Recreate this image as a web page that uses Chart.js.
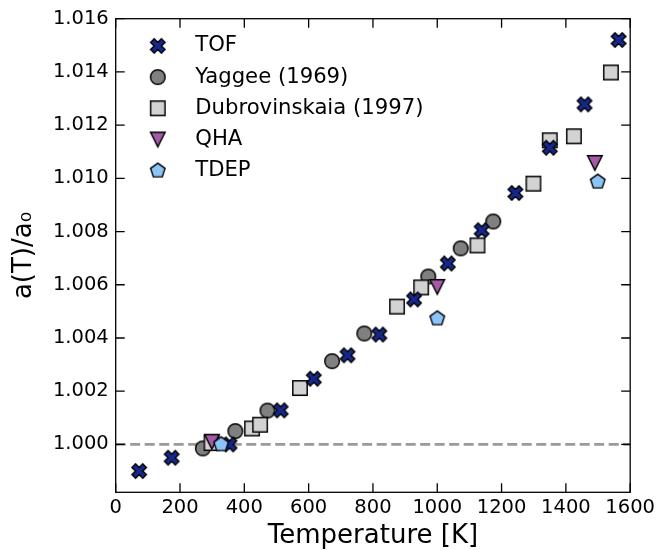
<!DOCTYPE html>
<html><head><meta charset="utf-8">
<script src="https://cdn.jsdelivr.net/npm/chart.js@4/dist/chart.umd.min.js"></script>
<style>html,body{margin:0;padding:0;background:#fff}</style>
</head><body>
<canvas id="c" width="659" height="550"></canvas>
<script>
const tofT  = [73, 174, 354, 513, 616, 721, 820, 928, 1033, 1138, 1243, 1350, 1458, 1564];
const tofA  = [0.99900, 0.99950, 1.00000, 1.00128, 1.00247, 1.00335, 1.00413, 1.00545, 1.00680, 1.00805, 1.00945, 1.01115, 1.01278, 1.01520];
const yagT  = [271, 372, 472, 673, 773, 972, 1073, 1174];
const yagA  = [0.99985, 1.00050, 1.00127, 1.00313, 1.00417, 1.00631, 1.00737, 1.00838];
const dubT  = [298, 424, 449, 573, 875, 950, 1125, 1299, 1350, 1425, 1540];
const dubA  = [1.00005, 1.00060, 1.00074, 1.00212, 1.00518, 1.00590, 1.00748, 1.00980, 1.01143, 1.01158, 1.01398];
const qhaT  = [299, 1000, 1490];
const qhaA  = [1.00010, 1.00592, 1.01058];
const tdepT = [328, 1000, 1499];
const tdepA = [1.00000, 1.00473, 1.00987];
const refLineT = [0, 1600];
const refLineA = [1.000, 1.000];
const xTicks = [0, 200, 400, 600, 800, 1000, 1200, 1400, 1600];
const yTicks = [1.000, 1.002, 1.004, 1.006, 1.008, 1.010, 1.012, 1.014, 1.016];
const seriesNames = ['TOF', 'Yaggee (1969)', 'Dubrovinskaia (1997)', 'QHA', 'TDEP'];

const FONT = 'DejaVu Sans';
const pts = (xs, ys) => xs.map((x, i) => ({x: x, y: ys[i]}));

function marker(kind, fill) {
  const S = 22, c = document.createElement('canvas');
  c.width = S; c.height = S;
  const g = c.getContext('2d'), m = S / 2;
  g.fillStyle = fill; g.strokeStyle = '#000'; g.lineWidth = 1.45; g.lineJoin = 'miter';
  g.beginPath();
  if (kind === 'x') {
    const u = 2.55;
    const v = [[-1,-3],[-1,-1],[-3,-1],[-3,1],[-1,1],[-1,3],[1,3],[1,1],[3,1],[3,-1],[1,-1],[1,-3]];
    v.forEach(([a, b], i) => {
      const x = (a - b) / Math.SQRT2 * u + m, y = (a + b) / Math.SQRT2 * u + m;
      if (i) g.lineTo(x, y); else g.moveTo(x, y);
    });
    g.closePath();
  } else if (kind === 'circle') {
    g.arc(m, m, 7.3, 0, Math.PI * 2);
  } else if (kind === 'square') {
    g.rect(m - 7.2, m - 7.2, 14.4, 14.4);
  } else if (kind === 'tri') {
    g.moveTo(m - 7.3, m - 7.3); g.lineTo(m + 7.3, m - 7.3); g.lineTo(m, m + 7.3); g.closePath();
  } else {
    const R = 7.6;
    for (let i = 0; i < 5; i++) {
      const ang = -Math.PI / 2 + i * 2 * Math.PI / 5;
      const x = m + R * Math.cos(ang), y = m + R * Math.sin(ang);
      if (i) g.lineTo(x, y); else g.moveTo(x, y);
    }
    g.closePath();
  }
  g.fill(); g.stroke();
  return c;
}

const mk = {
  tof: marker('x', '#15288a'),
  yag: marker('circle', '#808080'),
  dub: marker('square', '#d3d3d3'),
  qha: marker('tri', '#a35ba8'),
  tdep: marker('pent', '#8cc4f7')
};

const framePlugin = {
  id: 'frame',
  afterDatasetsDraw(chart) {
    const {ctx, chartArea: a, scales: {x, y}} = chart;
    ctx.save();
    ctx.strokeStyle = '#000'; ctx.lineWidth = 1.3;
    ctx.strokeRect(a.left, a.top, a.right - a.left, a.bottom - a.top);
    ctx.beginPath();
    const L = 9;
    x.ticks.forEach(t => {
      const p = x.getPixelForValue(t.value);
      ctx.moveTo(p, a.bottom); ctx.lineTo(p, a.bottom - L);
      ctx.moveTo(p, a.top); ctx.lineTo(p, a.top + L);
    });
    y.ticks.forEach(t => {
      const p = y.getPixelForValue(t.value);
      ctx.moveTo(a.left, p); ctx.lineTo(a.left + L, p);
      ctx.moveTo(a.right, p); ctx.lineTo(a.right - L, p);
    });
    ctx.stroke();
    ctx.restore();
  }
};

const legendPlace = {
  id: 'legendPlace',
  afterLayout(chart) {
    const Lg = chart.legend, a = chart.chartArea;
    if (!Lg) return;
    Lg.left = a.left + 5.3; Lg.top = a.top + 6.6;
    Lg.right = Lg.left + Lg.width; Lg.bottom = Lg.top + Lg.height;
  }
};

new Chart(document.getElementById('c'), {
  type: 'scatter',
  data: {
    datasets: [
      {label: seriesNames[0], data: pts(tofT, tofA), pointStyle: mk.tof, order: 2},
      {label: seriesNames[1], data: pts(yagT, yagA), pointStyle: mk.yag, order: 4},
      {label: seriesNames[2], data: pts(dubT, dubA), pointStyle: mk.dub, order: 3},
      {label: seriesNames[3], data: pts(qhaT, qhaA), pointStyle: mk.qha, order: 1},
      {label: seriesNames[4], data: pts(tdepT, tdepA), pointStyle: mk.tdep, order: 0},
      {label: '_ref', data: pts(refLineT, refLineA), showLine: true, pointRadius: 0,
       borderColor: '#9a9a9a', borderWidth: 2.6, borderDash: [10, 4.5], order: 10}
    ]
  },
  options: {
    responsive: false,
    animation: false,
    layout: {padding: {top: 18.3, right: 26, left: 0, bottom: 0}},
    plugins: {
      tooltip: {enabled: false},
      legend: {
        position: 'chartArea',
        align: 'start',
        labels: {
          usePointStyle: true,
          pointStyleWidth: 53.6,
          padding: 10,
          color: '#000',
          font: {family: FONT, size: 21.2},
          filter: (item) => item.text !== '_ref',
          sort: (a, b) => a.datasetIndex - b.datasetIndex
        }
      }
    },
    scales: {
      x: {
        type: 'linear', position: 'bottom', min: 0, max: 1600,
        afterBuildTicks: (s) => { s.ticks = xTicks.map(v => ({value: v})); },
        afterFit: (s) => { s.height = 57.7; },
        grid: {display: false, drawTicks: false},
        border: {display: false},
        ticks: {color: '#000', font: {family: FONT, size: 19.5}, padding: 4, maxRotation: 0, autoSkip: false,
                callback: (v) => String(v)},
        title: {display: true, text: 'Temperature [K]', color: '#000',
                font: {family: FONT, size: 26, lineHeight: 1}, padding: {top: 0, bottom: 1}}
      },
      y: {
        type: 'linear', position: 'left', min: 0.9982, max: 1.016,
        afterBuildTicks: (s) => { s.ticks = yTicks.map(v => ({value: v})); },
        afterFit: (s) => { s.width = 115.7; },
        grid: {display: false, drawTicks: false},
        border: {display: false},
        ticks: {color: '#000', font: {family: FONT, size: 19.5}, padding: 7, autoSkip: false,
                callback: (v) => Number(v).toFixed(3)},
        title: {display: true, text: 'a(T)/a₀', color: '#000',
                font: {family: FONT, size: 26, lineHeight: 1}, padding: {top: 11, bottom: 0}}
      }
    }
  },
  plugins: [framePlugin, legendPlace]
});
</script>
</body></html>
